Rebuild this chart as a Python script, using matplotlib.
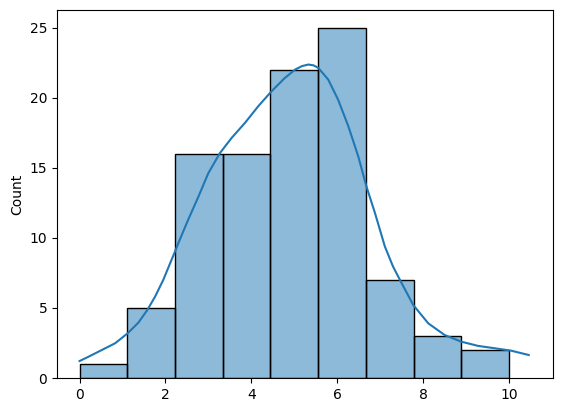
import matplotlib
matplotlib.use("Agg")
import matplotlib.pyplot as plt

bin_edges = [0.0, 1.111, 2.222, 3.333, 4.444, 5.556, 6.667, 7.778, 8.889, 10.0]
counts = [1, 5, 16, 16, 22, 25, 7, 3, 2]

kde_x = [0.0, 0.21, 0.52, 0.83, 1.12, 1.37, 1.58, 1.76, 1.95, 2.11, 2.22, 2.30, 2.53,
         2.77, 3.0, 3.27, 3.54, 3.85, 4.16, 4.47, 4.78, 5.02, 5.18, 5.33, 5.45, 5.56,
         5.79, 6.02, 6.26, 6.49, 6.68, 6.88, 7.11, 7.30, 7.46, 7.77, 8.12, 8.50, 8.89,
         9.28, 9.67, 10.05, 10.46]
kde_y = [1.21, 1.52, 2.0, 2.48, 3.19, 3.95, 4.86, 5.81, 7.0, 8.19, 9.0, 9.62, 11.29,
         12.95, 14.62, 16.05, 17.12, 18.19, 19.38, 20.45, 21.4, 22.0, 22.25, 22.36, 22.3, 22.12,
         21.29, 19.86, 17.95, 15.81, 13.67, 11.76, 9.38, 7.95, 7.0, 5.21, 3.9, 3.07, 2.59,
         2.29, 2.12, 1.95, 1.64]

fig = plt.figure(figsize=(5.63, 4.13), dpi=100)
ax = fig.add_axes([57/563, 1-378/413, (553-57)/563, (378-10)/413])

widths = [bin_edges[i+1] - bin_edges[i] for i in range(len(counts))]
ax.bar(bin_edges[:-1], counts, width=widths, align="edge",
       color="#1f77b4", alpha=0.5, edgecolor="none")
ax.bar(bin_edges[:-1], counts, width=widths, align="edge",
       facecolor="none", edgecolor="black", linewidth=1)
ax.plot(kde_x, kde_y, color="#1f77b4", linewidth=1.5, solid_joinstyle="round")

ax.set_xlim(-0.525, 11.025)
ax.set_ylim(0, 26.25)
ax.set_xticks([0, 2, 4, 6, 8, 10])
ax.set_yticks([0, 5, 10, 15, 20, 25])
ax.set_ylabel("Count")

fig.savefig("out.png", dpi=100)
